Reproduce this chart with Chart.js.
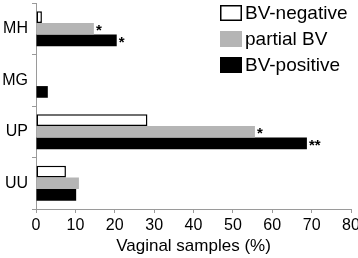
<!DOCTYPE html>
<html>
<head>
<meta charset="utf-8">
<script src="https://cdn.jsdelivr.net/npm/chart.js@4"></script>
<style>
  html, body { margin: 0; padding: 0; background: #fff; }
  #wrap { width: 358px; height: 258px; }
</style>
</head>
<body>
<div id="wrap"><canvas id="myChart" width="358" height="258"></canvas></div>
<script>
const categories = ["MH", "MG", "UP", "UU"];
const seriesNames = ["BV-negative", "partial BV", "BV-positive"];
const bvNegative = [1.5, 0, 28.3, 7.6];
const partialBV = [14.7, 0, 55.6, 10.9];
const bvPositive = [20.5, 3.0, 68.8, 10.2];
const partialStars = ["*", "", "*", ""];
const positiveStars = ["*", "", "**", ""];
const xTicks = [0, 10, 20, 30, 40, 50, 60, 70, 80];

const font = "'Liberation Sans', Arial, sans-serif";
const axisGray = "#9a9a9a";

// asterisks after the bars + the legend box in the top right
const extrasPlugin = {
  id: "extras",
  afterDatasetsDraw(chart) {
    const ctx = chart.ctx;
    const stars = [null, partialStars, positiveStars];
    ctx.save();
    ctx.fillStyle = "#000";
    ctx.font = "bold 15px " + font;
    ctx.textBaseline = "middle";
    ctx.textAlign = "left";
    stars.forEach((list, di) => {
      if (!list) return;
      const meta = chart.getDatasetMeta(di);
      meta.data.forEach((bar, i) => {
        if (list[i]) ctx.fillText(list[i], bar.x + 2, bar.y + 2);
      });
    });

    ctx.font = "19px " + font;
    const rowY = [13, 39, 65];
    chart.data.datasets.forEach((ds, i) => {
      const y = rowY[i];
      ctx.fillStyle = ds.backgroundColor;
      ctx.fillRect(220, y - 8, 22, 16);
      if (ds.borderWidth) {
        ctx.strokeStyle = "#000";
        ctx.lineWidth = 1.5;
        ctx.strokeRect(220.75, y - 7.25, 20.5, 14.5);
      }
      ctx.fillStyle = "#000";
      ctx.fillText(ds.label, 245, y + 1);
    });
    ctx.restore();
  }
};

new Chart(document.getElementById("myChart"), {
  type: "bar",
  data: {
    labels: categories,
    datasets: [
      { label: seriesNames[0], data: bvNegative, backgroundColor: "#ffffff", borderColor: "#000", borderWidth: 1.5, borderSkipped: false },
      { label: seriesNames[1], data: partialBV, backgroundColor: "#b5b5b5", borderWidth: 0 },
      { label: seriesNames[2], data: bvPositive, backgroundColor: "#000000", borderWidth: 0 }
    ]
  },
  options: {
    indexAxis: "y",
    responsive: false,
    animation: false,
    barPercentage: 1,
    categoryPercentage: 0.68,
    layout: { padding: { top: 3, right: 7, left: 0, bottom: 0 } },
    plugins: {
      legend: { display: false },
      tooltip: { enabled: false }
    },
    scales: {
      x: {
        min: 0,
        max: 80,
        afterBuildTicks(scale) { scale.ticks = xTicks.map(v => ({ value: v })); },
        afterFit(scale) {
          scale.height = 49;
          scale.paddingLeft = 0;
          scale.paddingRight = 0;
        },
        border: { color: axisGray, width: 1 },
        grid: { drawOnChartArea: false, drawTicks: true, tickLength: 4, color: axisGray },
        ticks: { color: "#000", font: { family: font, size: 16 }, padding: 3, maxRotation: 0 },
        title: {
          display: true,
          text: "Vaginal samples (%)",
          color: "#000",
          font: { family: font, size: 17 },
          padding: { top: 0, bottom: 1 }
        }
      },
      y: {
        afterFit(scale) {
          scale.width = 36;
          scale.paddingTop = 0;
          scale.paddingBottom = 0;
        },
        border: { color: axisGray, width: 1 },
        grid: { drawOnChartArea: false, drawTicks: true, tickLength: 4, color: axisGray, offset: true },
        ticks: { color: "#000", font: { family: font, size: 16 }, padding: 4 }
      }
    }
  },
  plugins: [extrasPlugin]
});
</script>
</body>
</html>
